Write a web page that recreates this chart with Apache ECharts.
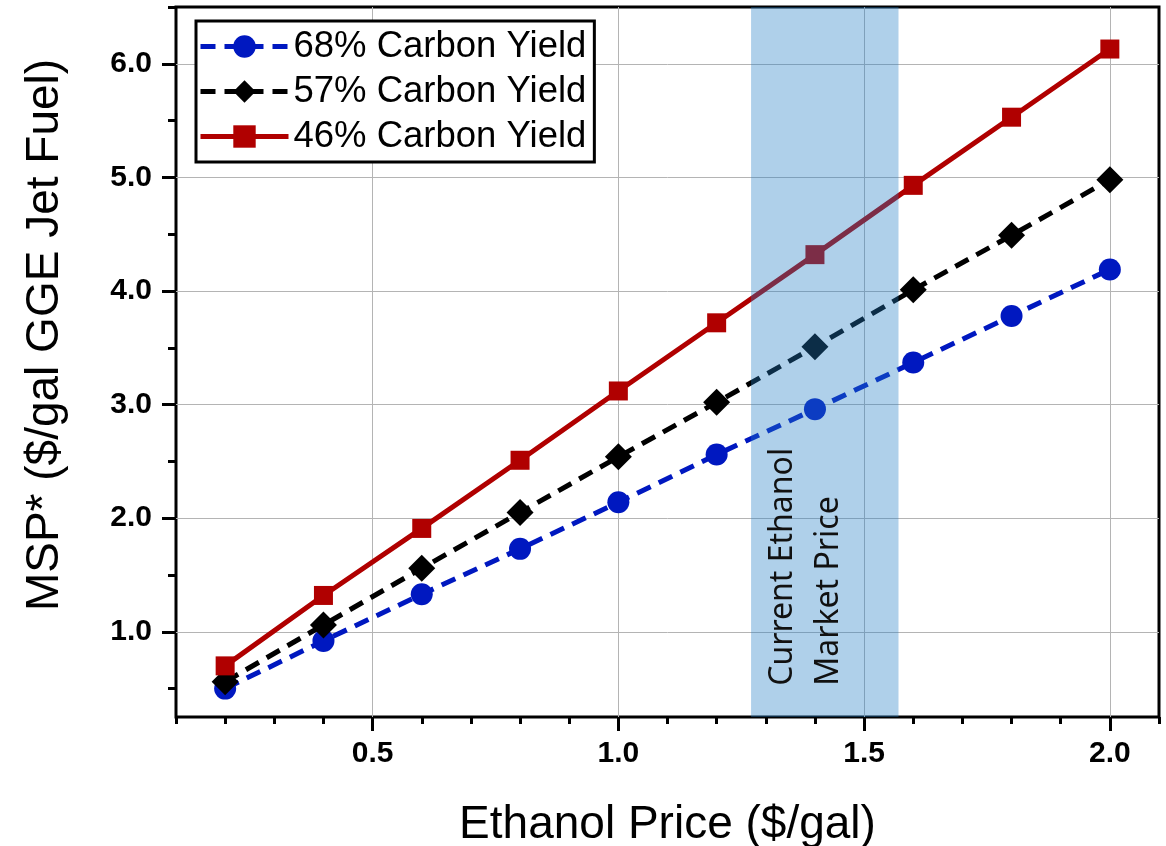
<!DOCTYPE html>
<html>
<head>
<meta charset="utf-8">
<script src="https://cdn.jsdelivr.net/npm/echarts@6/dist/echarts.min.js"></script>
<style>html,body{margin:0;padding:0;background:#fff}#c{width:1166px;height:846px}</style>
</head>
<body>
<div id="c"></div>
<script>
const ethanolPrice = [0.2, 0.4, 0.6, 0.8, 1.0, 1.2, 1.4, 1.6, 1.8, 2.0];
const yield68 = [0.50, 0.92, 1.33, 1.73, 2.14, 2.56, 2.96, 3.37, 3.78, 4.19];
const yield57 = [0.56, 1.06, 1.56, 2.05, 2.54, 3.02, 3.51, 4.01, 4.49, 4.98];
const yield46 = [0.70, 1.32, 1.91, 2.51, 3.12, 3.72, 4.32, 4.93, 5.53, 6.13];
const seriesNames = ['68% Carbon Yield', '57% Carbon Yield', '46% Carbon Yield'];
const xMajorTicks = [0.5, 1.0, 1.5, 2.0];
const xMinorTicks = [0.1, 0.2, 0.3, 0.4, 0.6, 0.7, 0.8, 0.9, 1.1, 1.2, 1.3, 1.4, 1.6, 1.7, 1.8, 1.9, 2.1];
const yMajorTicks = [1.0, 2.0, 3.0, 4.0, 5.0, 6.0];
const yMinorTicks = [0.5, 1.5, 2.5, 3.5, 4.5, 5.5, 6.5];
const marketBand = [1.27, 1.57];
const bandLabel = 'Current Ethanol\nMarket Price';

const pairs = ys => ethanolPrice.map((x, i) => [x, ys[i]]);
const chart = echarts.init(document.getElementById('c'), null, {renderer: 'canvas'});
const lblFont = {fontFamily: 'Liberation Sans, Arial, sans-serif', fontWeight: 'bold', fontSize: 30, color: '#000'};
const fmt = v => v.toFixed(1);
const BLUE = '#0018c0', RED = '#b00000';
const DASH = [15, 9];

const option = {
  animation: false,
  backgroundColor: '#fff',
  grid: {left: 176, right: 7, top: 7, bottom: 129, show: true, borderColor: '#000', borderWidth: 3,
         backgroundColor: 'transparent', containLabel: false, outerBoundsMode: 'none'},
  legend: {
    left: 196, top: 21, orient: 'vertical',
    data: [
      {name: seriesNames[0], lineStyle: {width: 5, type: DASH, color: BLUE}},
      {name: seriesNames[1], lineStyle: {width: 5, type: DASH, color: '#000'}},
      {name: seriesNames[2], lineStyle: {width: 5, color: RED}}
    ],
    itemWidth: 88, itemHeight: 28, itemGap: 8,
    padding: [7, 8, 7, 2],
    borderColor: '#000', borderWidth: 3,
    backgroundColor: '#fff',
    textStyle: {fontFamily: 'Liberation Sans, Arial, sans-serif', fontSize: 36.5, color: '#000', lineHeight: 36}
  },
  xAxis: [{
    type: 'value', min: 0.1, max: 2.1,
    name: 'Ethanol Price ($/gal)', nameLocation: 'middle', nameGap: 85,
    nameTextStyle: {fontFamily: 'Liberation Sans, Arial, sans-serif', fontSize: 46, color: '#000'},
    axisLine: {show: false},
    axisTick: {show: true, customValues: xMajorTicks, length: 14, lineStyle: {color: '#000', width: 3}},
    axisLabel: {customValues: xMajorTicks, formatter: fmt, margin: 22, ...lblFont},
    splitLine: {show: true, lineStyle: {color: '#b4b4b4', width: 1}}
  }, {
    type: 'value', min: 0.1, max: 2.1, position: 'bottom',
    axisLine: {show: false},
    axisTick: {show: true, customValues: xMinorTicks, length: 7, lineStyle: {color: '#000', width: 3}},
    axisLabel: {show: false},
    splitLine: {show: false}
  }],
  yAxis: [{
    type: 'value', min: 0.25, max: 6.5,
    name: 'MSP* ($/gal GGE Jet Fuel)', nameLocation: 'middle', nameGap: 108,
    nameTextStyle: {fontFamily: 'Liberation Sans, Arial, sans-serif', fontSize: 46, color: '#000', padding: [0, 0, 0, 54]},
    axisLine: {show: false},
    axisTick: {show: true, customValues: yMajorTicks, length: 14, lineStyle: {color: '#000', width: 3}},
    axisLabel: {customValues: yMajorTicks, formatter: fmt, margin: 24, ...lblFont},
    splitLine: {show: true, lineStyle: {color: '#b4b4b4', width: 1}}
  }, {
    type: 'value', min: 0.25, max: 6.5, position: 'left',
    axisLine: {show: false},
    axisTick: {show: true, customValues: yMinorTicks, length: 8, lineStyle: {color: '#000', width: 3}},
    axisLabel: {show: false},
    splitLine: {show: false}
  }],
  series: [{
    name: seriesNames[0], type: 'line', data: pairs(yield68),
    symbol: 'circle', symbolSize: 22,
    lineStyle: {color: BLUE, width: 5, type: DASH},
    itemStyle: {color: BLUE}
  }, {
    name: seriesNames[1], type: 'line', data: pairs(yield57),
    symbol: 'diamond', symbolSize: 27,
    lineStyle: {color: '#000', width: 5, type: DASH},
    itemStyle: {color: '#000'}
  }, {
    name: seriesNames[2], type: 'line', data: pairs(yield46),
    symbol: 'rect', symbolSize: 19,
    lineStyle: {color: RED, width: 5},
    itemStyle: {color: RED}
  }, {
    name: 'band', type: 'line', data: [],
    markArea: {
      z: 10, silent: true,
      itemStyle: {color: 'rgba(33,126,198,0.36)'},
      label: {
        show: true, position: ['37%', '95.6%'], rotate: 90,
        align: 'left', verticalAlign: 'middle',
        fontFamily: 'Noto Sans, Open Sans, sans-serif', fontSize: 32, lineHeight: 46, color: '#111'
      },
      data: [[{name: bandLabel, xAxis: marketBand[0]}, {xAxis: marketBand[1]}]]
    }
  }]
};
chart.setOption(option);
</script>
</body>
</html>
